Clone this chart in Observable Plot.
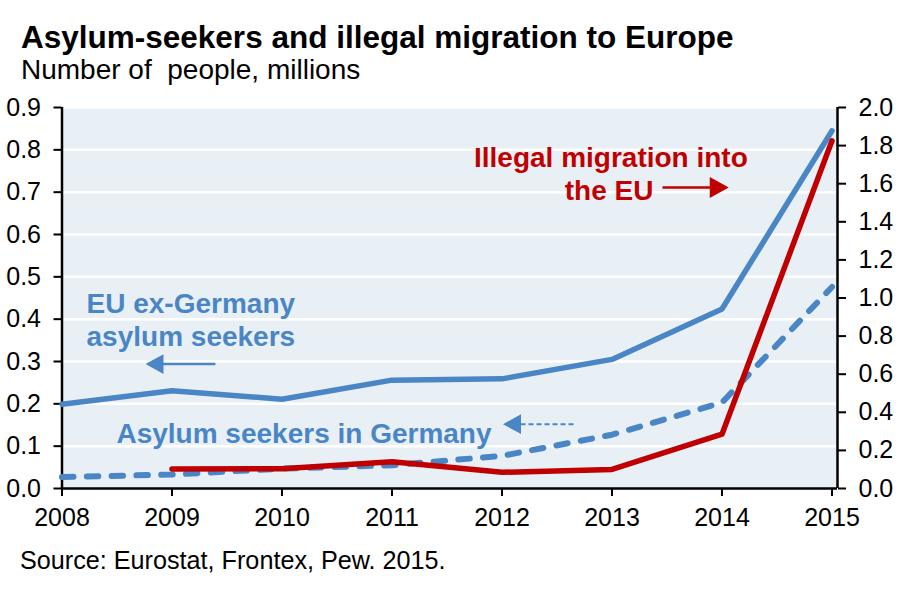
<!DOCTYPE html>
<html>
<head>
<meta charset="utf-8">
<script src="https://cdn.jsdelivr.net/npm/d3@7"></script>
<script src="https://cdn.jsdelivr.net/npm/@observablehq/plot@0.6"></script>
<style>
  html, body { margin: 0; padding: 0; background: #fff; }
  body { width: 900px; height: 600px; position: relative; overflow: hidden;
         font-family: "Liberation Sans", Arial, Helvetica, sans-serif; color: #000; }
  #title { position: absolute; left: 21px; top: 22px; font-size: 31.5px; line-height: 1; font-weight: bold; white-space: nowrap; }
  #subtitle { position: absolute; left: 21px; top: 56px; font-size: 28px; line-height: 1; white-space: pre; }
  #chart { position: absolute; left: 0; top: 90px; }
  #source { position: absolute; left: 20px; top: 548px; font-size: 25.2px; line-height: 1; white-space: nowrap; }
</style>
</head>
<body>
<div id="title">Asylum-seekers and illegal migration to Europe</div>
<div id="subtitle">Number of  people, millions</div>
<div id="chart"></div>
<div id="source">Source: Eurostat, Frontex, Pew. 2015.</div>
<script>
// ---- data ----
const years = [2008, 2009, 2010, 2011, 2012, 2013, 2014, 2015];
const euExGermany = [0.199, 0.231, 0.211, 0.256, 0.259, 0.305, 0.424, 0.845]; // left axis, millions
const germany = [0.027, 0.033, 0.047, 0.055, 0.077, 0.127, 0.203, 0.476];     // left axis, millions
const illegalYears = [2009, 2010, 2011, 2012, 2013, 2014, 2015];
const illegal = [0.102, 0.104, 0.140, 0.085, 0.100, 0.285, 1.825];             // right axis, millions
const leftTicks = [0, 0.1, 0.2, 0.3, 0.4, 0.5, 0.6, 0.7, 0.8, 0.9];
const rightTicks = [0, 0.2, 0.4, 0.6, 0.8, 1.0, 1.2, 1.4, 1.6, 1.8, 2.0];
const xTicks = years;

// annotation text (positions in data units)
const blueLabels = [
  {text: "EU ex-Germany", x: 2008.223, y: 0.4347},
  {text: "asylum seekers", x: 2008.223, y: 0.3584},
  {text: "Asylum seekers in Germany", x: 2008.495, y: 0.1276}
];
const redLabelMid = [{text: "Illegal migration into", x: 2012.99, y: 0.7796}];
const redLabelEnd = [{text: "the EU", x: 2013.377, y: 0.7033}];
const arrowSolidBlue = [{x1: 2009.395, x2: 2008.90, y: 0.294}];
const arrowDashedBlue = [{x1: 2012.65, x2: 2012.15, y: 0.152}];
const arrowRed = [{x1: 2013.459, x2: 2013.92, y: 0.711}];
const headsLeft = [{x: 2008.841, y: 0.294}, {x: 2012.091, y: 0.152}];
const headsRight = [{x: 2013.975, y: 0.711}];

// ---- build ----
const K = 0.9 / 2.0; // right-axis units -> left-axis units
const BLUE = "#4a86c6";
const RED = "#c00000";
const euRows = years.map((yr, i) => ({year: yr, v: euExGermany[i]}));
const deRows = years.map((yr, i) => ({year: yr, v: germany[i]}));
const ilRows = illegalYears.map((yr, i) => ({year: yr, v: illegal[i]}));

const headL = {draw(ctx, size) { const r = Math.sqrt(size / Math.PI); ctx.moveTo(-r, 0); ctx.lineTo(r, -r * 1.1); ctx.lineTo(r, r * 1.1); ctx.closePath(); }};
const headR = {draw(ctx, size) { const r = Math.sqrt(size / Math.PI); ctx.moveTo(r, 0); ctx.lineTo(-r, -r * 1.1); ctx.lineTo(-r, r * 1.1); ctx.closePath(); }};

const font = '"Liberation Sans", Arial, Helvetica, sans-serif';
const chart = Plot.plot({
  width: 900,
  height: 443,
  marginLeft: 61.5,
  marginRight: 63,
  marginTop: 17,
  marginBottom: 45,
  style: {fontFamily: font, fontSize: "25px", background: "transparent", color: "#000", overflow: "visible"},
  x: {domain: [2008, 2015.05], label: null},
  y: {domain: [0, 0.9], label: null},
  marks: [
    Plot.frame({fill: "#e9f0f5", stroke: null}),
    Plot.gridY(leftTicks.slice(1), {stroke: "#ffffff", strokeOpacity: 1, strokeWidth: 2.5}),
    Plot.axisY(leftTicks, {anchor: "left", tickSize: 8, tickPadding: 13, strokeWidth: 2, fontSize: 25, tickFormat: d => d.toFixed(1), label: null}),
    Plot.axisY(rightTicks.map(v => v * K), {anchor: "right", tickSize: 8, tickPadding: 13, strokeWidth: 2, fontSize: 25, tickFormat: d => (d / K).toFixed(1), label: null}),
    Plot.axisX(xTicks, {tickSize: 8, tickPadding: 12, strokeWidth: 2, fontSize: 25, tickFormat: d => String(d), label: null}),
    Plot.ruleX([2008], {stroke: "#000", strokeWidth: 2.5}),
    Plot.ruleX([2015.05], {stroke: "#000", strokeWidth: 2.5}),
    Plot.ruleY([0], {stroke: "#000", strokeWidth: 2.5}),
    Plot.line(deRows, {x: "year", y: "v", stroke: BLUE, strokeWidth: 6, strokeDasharray: "11.5,13.3", strokeLinecap: "round"}),
    Plot.line(euRows, {x: "year", y: "v", stroke: BLUE, strokeWidth: 5.5}),
    Plot.line(ilRows, {x: "year", y: d => d.v * K, stroke: RED, strokeWidth: 5.5}),
    // annotations
    Plot.text(blueLabels, {x: "x", y: "y", text: "text", textAnchor: "start", fill: BLUE, fontSize: 28, fontWeight: "bold"}),
    Plot.text(redLabelMid, {x: "x", y: "y", text: "text", textAnchor: "middle", fill: RED, fontSize: 28, fontWeight: "bold"}),
    Plot.text(redLabelEnd, {x: "x", y: "y", text: "text", textAnchor: "end", fill: RED, fontSize: 28, fontWeight: "bold"}),
    Plot.link(arrowSolidBlue, {x1: "x1", x2: "x2", y1: "y", y2: "y", stroke: BLUE, strokeWidth: 2.5}),
    Plot.link(arrowDashedBlue, {x1: "x1", x2: "x2", y1: "y", y2: "y", stroke: BLUE, strokeWidth: 2, strokeDasharray: "5,3"}),
    Plot.link(arrowRed, {x1: "x1", x2: "x2", y1: "y", y2: "y", stroke: RED, strokeWidth: 2.5}),
    Plot.dot(headsLeft, {x: "x", y: "y", r: 9, symbol: headL, fill: BLUE, stroke: null}),
    Plot.dot(headsRight, {x: "x", y: "y", r: 9.5, symbol: headR, fill: RED, stroke: null})
  ]
});
document.getElementById("chart").appendChild(chart);
</script>
</body>
</html>
